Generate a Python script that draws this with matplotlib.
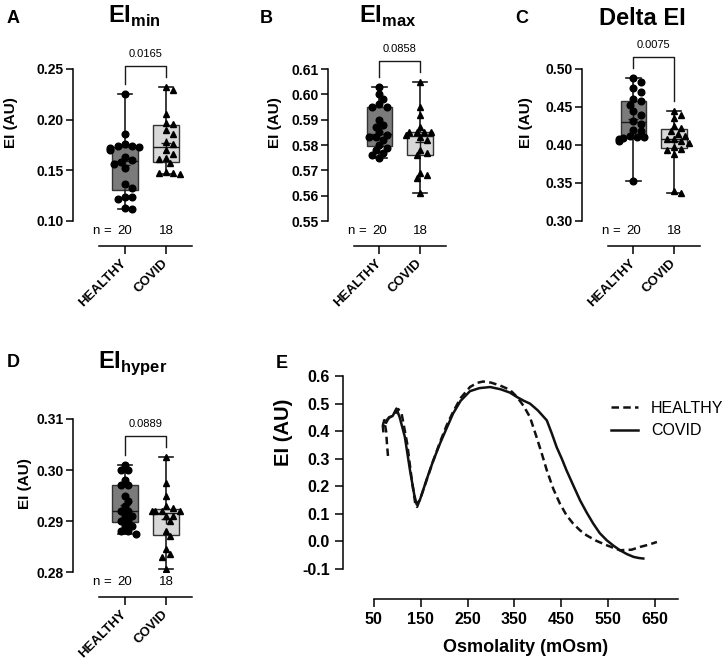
import matplotlib
matplotlib.use('Agg')
import matplotlib.pyplot as plt
from matplotlib.ticker import FormatStrFormatter

plt.rcParams['font.family'] = ['Liberation Sans', 'DejaVu Sans']
plt.rcParams['font.weight'] = 'bold'
plt.rcParams['axes.labelweight'] = 'bold'
plt.rcParams['axes.unicode_minus'] = False
plt.rcParams['mathtext.fontset'] = 'custom'
plt.rcParams['mathtext.rm'] = 'Liberation Sans'
plt.rcParams['mathtext.bf'] = 'Liberation Sans:bold'

# ---- data ----
groups = ['HEALTHY', 'COVID']
n_counts = [20, 18]

emin_healthy = [0.225, 0.186, 0.176, 0.174, 0.174, 0.173, 0.172, 0.170, 0.163, 0.160,
                0.158, 0.156, 0.152, 0.137, 0.133, 0.124, 0.124, 0.122, 0.113, 0.112]
emin_covid = [0.232, 0.229, 0.206, 0.197, 0.196, 0.190, 0.186, 0.178, 0.176, 0.170,
              0.166, 0.162, 0.161, 0.157, 0.148, 0.147, 0.147, 0.146]

emax_healthy = [0.603, 0.600, 0.598, 0.596, 0.595, 0.595, 0.590, 0.588, 0.587, 0.585,
                0.584, 0.583, 0.583, 0.582, 0.580, 0.579, 0.578, 0.577, 0.576, 0.575]
emax_covid = [0.605, 0.595, 0.592, 0.587, 0.585, 0.585, 0.585, 0.585, 0.584, 0.583,
              0.582, 0.578, 0.577, 0.576, 0.569, 0.568, 0.567, 0.561]

delta_healthy = [0.488, 0.483, 0.475, 0.470, 0.460, 0.458, 0.452, 0.445, 0.440, 0.432,
                 0.428, 0.420, 0.418, 0.412, 0.410, 0.410, 0.409, 0.408, 0.405, 0.353]
delta_covid = [0.445, 0.440, 0.435, 0.425, 0.422, 0.418, 0.415, 0.412, 0.408, 0.408,
               0.405, 0.402, 0.398, 0.395, 0.394, 0.388, 0.340, 0.337]

ehyper_healthy = [0.301, 0.300, 0.300, 0.298, 0.297, 0.297, 0.295, 0.294, 0.293, 0.292,
                  0.292, 0.291, 0.291, 0.290, 0.290, 0.289, 0.289, 0.288, 0.288, 0.2875]
ehyper_covid = [0.3025, 0.2975, 0.295, 0.293, 0.2925, 0.292, 0.292, 0.292, 0.292, 0.291,
                0.291, 0.290, 0.288, 0.287, 0.2845, 0.2835, 0.283, 0.2805]

p_values = ['0.0165', '0.0858', '0.0075', '0.0889']

healthy_osm = [80, 78, 76, 74, 77, 84, 94, 102, 109, 115, 121, 130, 138, 142, 150, 162, 176,
               191, 205, 219, 235, 255, 270, 283, 300, 320, 340, 355, 370, 383, 397, 408,
               419, 433, 447, 461, 475, 490, 504, 525, 547, 575, 600, 618, 636, 654]
healthy_ei = [0.31, 0.35, 0.40, 0.42, 0.44, 0.45, 0.46, 0.48, 0.464, 0.41, 0.355, 0.234,
              0.14, 0.125, 0.16, 0.22, 0.29, 0.36, 0.42, 0.47, 0.52, 0.56, 0.575, 0.58,
              0.576, 0.565, 0.55, 0.525, 0.49, 0.451, 0.379, 0.32, 0.258, 0.19, 0.137,
              0.095, 0.065, 0.04, 0.022, 0.002, -0.014, -0.032, -0.03, -0.02, -0.012, -0.002]
covid_osm = [70, 69, 72, 76, 82, 90, 98, 105, 116, 127, 136, 141, 148, 162, 176, 191, 205,
             219, 235, 255, 275, 298, 320, 340, 355, 370, 383, 400, 419, 430, 440, 451,
             461, 475, 490, 504, 518, 532, 547, 561, 575, 590, 604, 615, 625]
covid_ei = [0.40, 0.42, 0.44, 0.43, 0.45, 0.455, 0.482, 0.45, 0.379, 0.258, 0.17, 0.135,
            0.15, 0.222, 0.29, 0.355, 0.41, 0.464, 0.51, 0.545, 0.556, 0.56, 0.552, 0.54,
            0.524, 0.51, 0.50, 0.475, 0.439, 0.39, 0.342, 0.30, 0.258, 0.205, 0.149, 0.105,
            0.065, 0.03, 0.004, -0.015, -0.032, -0.046, -0.056, -0.06, -0.062]

W, H = 726, 664
fig = plt.figure(figsize=(W / 100, H / 100), dpi=100)
INK = '#1a1a1a'


def px_axes(left, top, right, bottom):
    return fig.add_axes([left / W, 1 - bottom / H, (right - left) / W, (bottom - top) / H])


def ftext(x, y, s, **kw):
    fig.text(x / W, 1 - y / H, s, **kw)


def swarm_x(ax, xc, vals, d=6.2):
    # simple beeswarm: shift points sideways until they stop overlapping
    pts = ax.transData.transform([(xc, v) for v in vals])
    placed = []
    out = []
    for px, py in pts:
        for k in [0, 1, -1, 2, -2, 3, -3, 4, -4]:
            cx = px + k * d * 0.58
            if all((cx - qx) ** 2 + (py - qy) ** 2 >= d * d for qx, qy in placed):
                break
        placed.append((cx, py))
        out.append(ax.transData.inverted().transform((cx, py))[0])
    return out


def box_panel(rect, healthy, covid, ylim, yticks, pval, ylab_x, ylab_y=0.65):
    ax = px_axes(*rect)
    ax.set_xlim(-0.26, 2.63)
    ax.set_ylim(*ylim)
    hpx = rect[3] - rect[1]
    bp = ax.boxplot([healthy, covid], positions=[1, 2], widths=0.63, whis=(0, 100),
                    showmeans=True, showfliers=False, patch_artist=True, capwidths=0.35,
                    medianprops=dict(color=INK, lw=1.0),
                    boxprops=dict(edgecolor='#333333', lw=1.0),
                    whiskerprops=dict(color=INK, lw=1.2),
                    capprops=dict(color=INK, lw=1.2),
                    meanprops=dict(marker='+', markeredgecolor=INK, markersize=7, markeredgewidth=1))
    bp['boxes'][0].set_facecolor('#7b7b7b')
    bp['boxes'][1].set_facecolor('#d8d8d8')
    ax.plot(swarm_x(ax, 1, healthy), healthy, 'o', color='black', ms=4.8, zorder=4)
    ax.plot(swarm_x(ax, 2, covid), covid, '^', color='black', ms=5.0, zorder=4)

    span = ylim[1] - ylim[0]
    u = span / hpx
    leg1 = max(healthy) + 10 * u
    leg2 = max(covid) + 10 * u
    top = max(leg1, leg2) + 11 * u
    ax.plot([1, 1, 2, 2], [leg1, top, top, leg2], color=INK, lw=1.0, clip_on=False)
    ax.text(1.5, top + 12 * u, pval, ha='center', va='center', fontsize=8, fontweight='normal')

    for side in ['top', 'right']:
        ax.spines[side].set_visible(False)
    ax.spines['left'].set_linewidth(1.1)
    ax.spines['bottom'].set_linewidth(1.1)
    ax.spines['bottom'].set_position(('outward', 18))
    ax.spines['bottom'].set_bounds(0.37, 2.63)
    ax.set_yticks(yticks)
    ax.yaxis.set_major_formatter(FormatStrFormatter('%.2f'))
    ax.tick_params(axis='y', direction='out', length=5, width=1.1, labelsize=10, pad=2)
    ax.set_xticks([1, 2])
    ax.set_xticklabels(groups, rotation=45, ha='right', va='center', rotation_mode='anchor',
                       fontsize=9.5)
    ax.tick_params(axis='x', direction='out', length=6, width=1.1, pad=5)
    ax.set_ylabel('EI (AU)', fontsize=11, fontweight='bold')
    ax.yaxis.set_label_coords(ylab_x, ylab_y)

    ax.annotate('n =', xy=(0.46, 0), xycoords=('data', 'axes fraction'), xytext=(0, -7),
                textcoords='offset points', ha='center', va='center', fontsize=9.5, fontweight='normal')
    for pos, n in zip([1, 2], n_counts):
        ax.annotate(str(n), xy=(pos, 0), xycoords=('data', 'axes fraction'), xytext=(0, -7),
                    textcoords='offset points', ha='center', va='center', fontsize=9.5,
                    fontweight='normal')
    return ax


axA = box_panel((73, 69, 192, 221), emin_healthy, emin_covid, (0.10, 0.25),
                [0.10, 0.15, 0.20, 0.25], p_values[0], -0.46)
axB = box_panel((328, 69, 446, 221), emax_healthy, emax_covid, (0.55, 0.61),
                [0.55, 0.56, 0.57, 0.58, 0.59, 0.60, 0.61], p_values[1], -0.39)
axC = box_panel((582, 69, 700, 221), delta_healthy, delta_covid, (0.30, 0.50),
                [0.30, 0.35, 0.40, 0.45, 0.50], p_values[2], -0.415)
axD = box_panel((73, 419, 192, 572), ehyper_healthy, ehyper_covid, (0.28, 0.31),
                [0.28, 0.29, 0.30, 0.31], p_values[3], -0.345, 0.575)

# ---- panel E ----
axE = px_axes(343, 376, 678, 569)
axE.plot(healthy_osm, healthy_ei, color='#111111', lw=1.8, ls=(0, (3, 1.7)), label='HEALTHY')
axE.plot(covid_osm, covid_ei, color='#111111', lw=1.8, label='COVID')
axE.set_xlim(-16, 699)
axE.set_ylim(-0.1, 0.6)
for side in ['top', 'right']:
    axE.spines[side].set_visible(False)
axE.spines['left'].set_linewidth(1.1)
axE.spines['bottom'].set_linewidth(1.1)
axE.spines['bottom'].set_position(('outward', 21.6))
axE.spines['bottom'].set_bounds(50, 699)
axE.set_xticks(range(50, 651, 100))
axE.set_yticks([-0.1, 0.0, 0.1, 0.2, 0.3, 0.4, 0.5, 0.6])
axE.yaxis.set_major_formatter(FormatStrFormatter('%.1f'))
axE.tick_params(direction='out', length=6, width=1.1, labelsize=11.5)
axE.set_ylabel('EI (AU)', fontsize=14.5, fontweight='bold')
axE.yaxis.set_label_coords(-0.149, 0.71)
axE.legend(loc='upper left', bbox_to_anchor=(611 / W, 1 - 401 / H), bbox_transform=fig.transFigure,
           frameon=False, handlelength=1.7, handletextpad=0.8, labelspacing=0.45,
           borderaxespad=0, borderpad=0, prop=dict(size=11.5, weight='normal'))
ftext(526, 647, 'Osmolality (mOsm)', ha='center', va='center', fontsize=13)

# ---- titles and panel letters ----
ftext(134, 23, r'$\mathbf{EI}_{\mathbf{min}}$', ha='center', va='baseline', fontsize=17)
ftext(388, 23, r'$\mathbf{EI}_{\mathbf{max}}$', ha='center', va='baseline', fontsize=17)
ftext(642, 25, 'Delta EI', ha='center', va='baseline', fontsize=17)
ftext(133, 368, r'$\mathbf{EI}_{\mathbf{hyper}}$', ha='center', va='baseline', fontsize=17)
for letter, x, y in [('A', 7, 23), ('B', 260, 23), ('C', 515, 23), ('D', 7, 367), ('E', 276, 368)]:
    ftext(x, y, letter, ha='left', va='baseline', fontsize=13)

fig.savefig('out.png', dpi=100)
